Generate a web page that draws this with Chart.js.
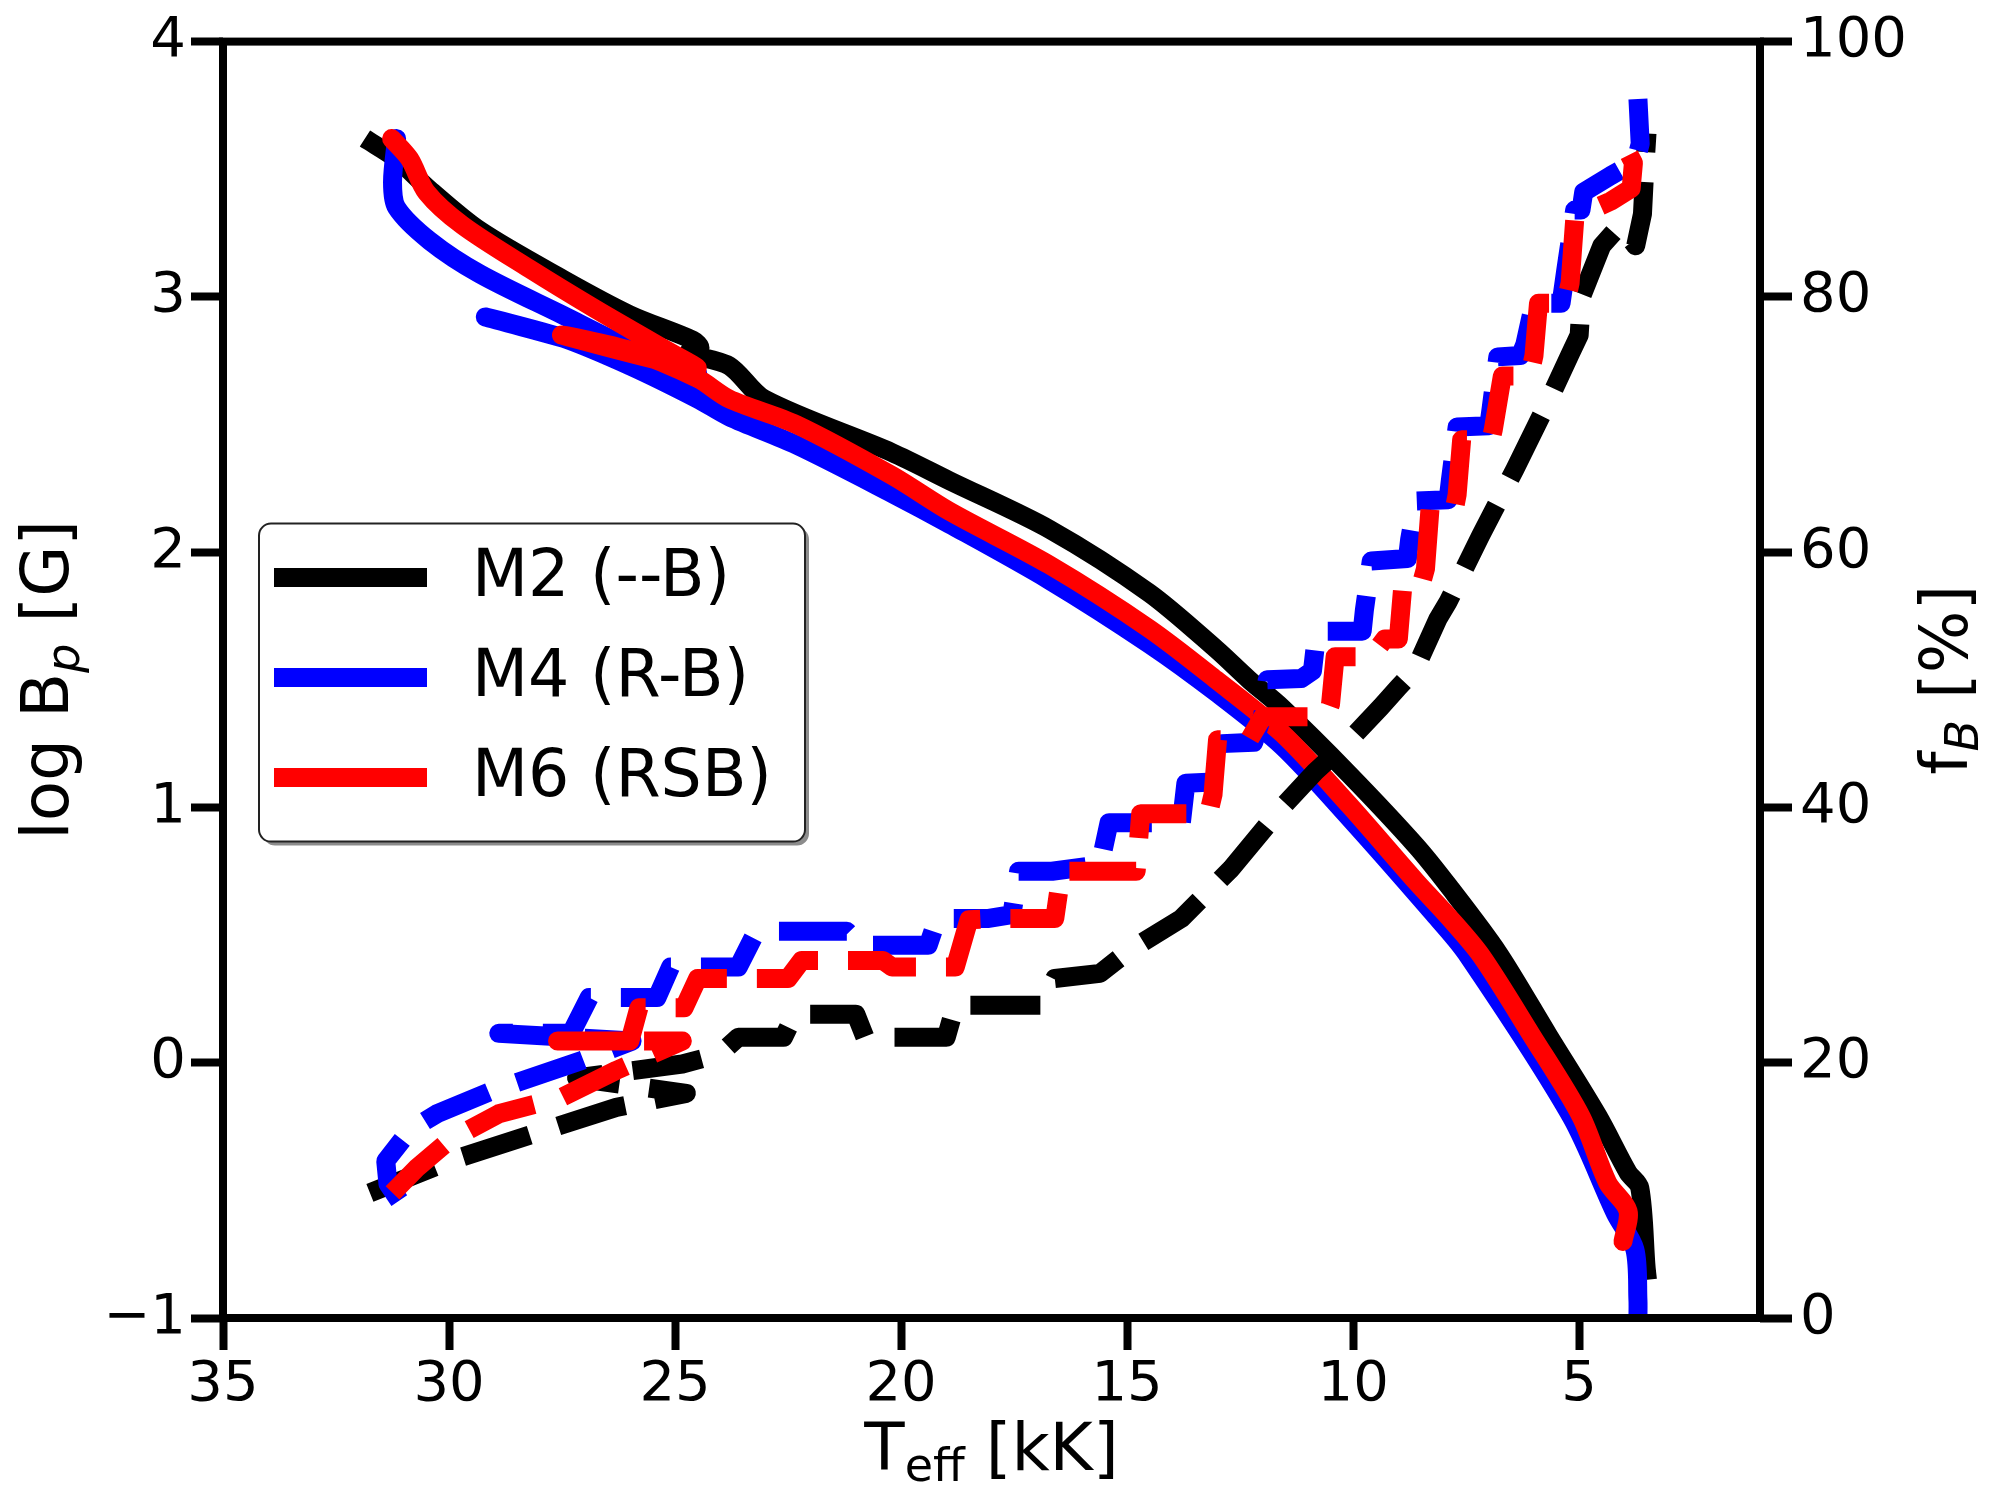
<!DOCTYPE html>
<html>
<head>
<meta charset="utf-8">
<script src="https://cdn.jsdelivr.net/npm/chart.js@4.4.1/dist/chart.umd.min.js"></script>
<style>
  html, body { margin: 0; padding: 0; background: #fff; }
  #wrap { width: 2000px; height: 1500px; }
</style>
</head>
<body>
<div id="wrap"><canvas id="bfield" width="2000" height="1500"></canvas></div>
<script>
// tick labels
const teffTicks = [35, 30, 25, 20, 15, 10, 5];
const logBTicks = [-1, 0, 1, 2, 3, 4];
const fbTicks = [0, 20, 40, 60, 80, 100];

// M2 (--B) : log Bp along the track
const m2Teff = [31.86, 31.16, 30.43, 29.32, 27.49, 26.0, 24.6, 24.45, 24.7, 23.8, 23.03, 20.2, 18.93, 16.72, 14.51, 13.03, 12.3, 11.57, 10.09, 8.61, 7.88, 6.79, 5.69, 4.58, 3.92, 3.66, 3.52, 3.49];
const m2LogB = [3.62, 3.54, 3.42, 3.26, 3.07, 2.93, 2.83, 2.80, 2.78, 2.73, 2.60, 2.39, 2.28, 2.09, 1.84, 1.62, 1.50, 1.39, 1.13, 0.85, 0.69, 0.43, 0.11, -0.21, -0.43, -0.49, -0.80, -0.85];

// M4 (R-B)
const m4Teff = [31.16, 31.25, 31.16, 30.43, 29.32, 27.5, 26.0, 24.53, 29.17, 27.5, 26.0, 24.5, 23.8, 22.32, 20.2, 18.93, 16.72, 14.51, 13.03, 11.57, 10.09, 8.25, 7.5, 5.18, 4.2, 3.77, 3.7, 3.7];
const m4LogB = [3.62, 3.45, 3.35, 3.22, 3.09, 2.93, 2.80, 2.70, 2.92, 2.84, 2.73, 2.60, 2.53, 2.42, 2.23, 2.11, 1.89, 1.64, 1.45, 1.24, 0.96, 0.59, 0.43, -0.21, -0.59, -0.73, -0.93, -1.0];

// M6 (RSB)
const m6Teff = [31.27, 30.87, 30.5, 29.7, 28.22, 26.74, 25.28, 24.53, 27.5, 26.0, 24.5, 23.8, 22.32, 20.2, 18.93, 16.72, 14.51, 13.03, 11.57, 10.09, 8.61, 7.88, 7.17, 6.06, 4.96, 4.37, 3.92, 4.03];
const m6LogB = [3.62, 3.54, 3.41, 3.28, 3.11, 2.95, 2.80, 2.72, 2.85, 2.79, 2.68, 2.60, 2.50, 2.30, 2.16, 1.95, 1.70, 1.50, 1.29, 1.01, 0.71, 0.57, 0.42, 0.11, -0.21, -0.47, -0.58, -0.70];

// fB [%] (right axis), dashed
const m2FbTeff = [31.75, 29.99, 28.15, 26.3, 24.75, 27.18, 24.84, 24.0, 23.6, 22.6, 22.35, 21.0, 20.8, 19.0, 18.8, 16.9, 16.6, 15.6, 14.97, 13.8, 12.7, 11.6, 10.84, 10.1, 9.38, 9.0, 8.63, 8.12, 7.9, 7.18, 6.42, 5.7, 5.2, 5.0, 4.95, 4.5, 4.1, 3.75, 3.6, 3.55, 3.5];
const m2Fb = [9.8, 12.3, 14.4, 16.5, 17.6, 18.8, 19.9, 20.7, 22.0, 22.0, 23.8, 23.8, 22.0, 22.0, 24.5, 24.5, 26.6, 27.0, 28.75, 31.3, 35.2, 39.9, 42.8, 45.2, 47.9, 49.4, 50.8, 54.8, 56.1, 61.3, 66.5, 71.7, 75.5, 77.0, 80.0, 84.0, 85.6, 84.0, 86.5, 90.0, 92.8];

const m4FbTeff = [31.1, 31.35, 31.4, 30.87, 30.27, 29.04, 27.05, 25.95, 28.9, 27.3, 26.9, 25.4, 25.1, 23.6, 23.2, 21.2, 20.9, 19.4, 19.2, 18.06, 17.55, 17.4, 16.66, 15.6, 15.4, 13.8, 13.7, 13.1, 12.9, 12.2, 12.0, 11.9, 11.15, 10.9, 10.8, 9.8, 9.75, 9.6, 8.8, 8.75, 8.6, 7.9, 7.85, 7.7, 7.0, 6.95, 6.8, 6.3, 6.2, 6.0, 5.4, 5.3, 5.1, 4.96, 4.9, 4.3, 3.75, 3.65, 3.7];
const m4Fb = [9.2, 10.5, 12.3, 14.7, 16.0, 17.8, 20.2, 21.7, 22.3, 22.3, 25.1, 25.1, 27.5, 27.5, 30.3, 30.3, 29.2, 29.2, 31.3, 31.3, 31.6, 35.0, 35.0, 35.5, 38.8, 38.8, 41.9, 42.0, 45.0, 45.1, 47.2, 50.0, 50.1, 50.7, 53.8, 53.8, 55.5, 59.3, 59.5, 61.0, 64.0, 64.1, 65.6, 69.8, 69.9, 71.2, 75.3, 75.4, 76.3, 79.5, 79.5, 82.0, 86.8, 86.8, 88.2, 89.5, 90.6, 92.0, 95.5];

const m6FbTeff = [31.25, 30.7, 30.0, 28.9, 27.5, 26.3, 24.84, 27.6, 26.0, 25.8, 24.8, 24.5, 22.5, 22.2, 20.4, 20.2, 18.8, 18.5, 17.9, 16.6, 16.45, 14.8, 14.7, 13.2, 13.1, 13.0, 12.3, 12.0, 11.65, 10.6, 10.5, 10.4, 9.6, 9.3, 9.0, 8.9, 8.5, 8.4, 8.3, 7.76, 7.7, 7.6, 6.95, 6.9, 6.7, 6.1, 6.0, 5.9, 5.3, 5.2, 5.1, 4.74, 4.3, 3.85, 3.8, 3.99];
const m6Fb = [9.8, 11.8, 13.9, 16.0, 17.3, 19.4, 21.7, 21.7, 21.7, 24.3, 24.3, 26.6, 26.6, 28.0, 28.0, 27.5, 27.5, 31.2, 31.3, 31.3, 35.0, 35.0, 39.5, 39.5, 41.0, 45.3, 45.3, 47.1, 47.1, 47.1, 48.1, 51.8, 51.8, 53.2, 53.2, 57.4, 57.4, 58.7, 63.4, 63.4, 64.5, 68.8, 68.8, 69.6, 73.8, 73.8, 75.4, 79.5, 79.5, 81.1, 86.0, 86.8, 87.5, 88.5, 90.5, 91.8];

function pts(xs, ys) {
    return xs.map(function(x, i){ return {x: x, y: ys[i]}; });
}

const FONT = 'DejaVu Sans';
const LW = 19;

// axis titles with sub-scripts, spines and the legend box
function drawParts(ctx, parts, cx, base) {
    var total = 0;
    parts.forEach(function(p){
        ctx.font = p.f;
        p.w = ctx.measureText(p.t).width;
        total += p.w;
    });
    var x = cx - total / 2;
    parts.forEach(function(p){
        ctx.font = p.f;
        ctx.fillText(p.t, x, base + (p.dy || 0));
        x += p.w;
    });
}

const extras = {
    id: 'extras',
    afterDatasetsDraw: function(chart) {
        const ctx = chart.ctx, a = chart.chartArea;
        ctx.save();
        ctx.strokeStyle = '#000';
        ctx.lineWidth = 8;
        ctx.strokeRect(a.left, a.top, a.right - a.left, a.bottom - a.top);
        ctx.restore();
    },
    afterDraw: function(chart) {
        const ctx = chart.ctx, a = chart.chartArea;
        const big = '66px ' + FONT, sub = '46px ' + FONT, subIt = 'italic 46px ' + FONT;
        const cy = (a.top + a.bottom) / 2;
        ctx.save();
        ctx.fillStyle = '#000';
        ctx.textBaseline = 'alphabetic';
        ctx.textAlign = 'left';

        drawParts(ctx, [{t: 'T', f: big}, {t: 'eff', f: sub, dy: 11}, {t: ' [kK]', f: big}],
            (a.left + a.right) / 2, a.bottom + 152);

        ctx.save();
        ctx.translate(a.left - 155, cy);
        ctx.rotate(-Math.PI / 2);
        drawParts(ctx, [{t: 'log B', f: big}, {t: 'p', f: subIt, dy: 11}, {t: ' [G]', f: big}], 0, 0);
        ctx.restore();

        ctx.save();
        ctx.translate(a.right + 207, cy);
        ctx.rotate(-Math.PI / 2);
        drawParts(ctx, [{t: 'f', f: big}, {t: 'B', f: subIt, dy: 11}, {t: ' [%]', f: big}], 0, 0);
        ctx.restore();

        // legend
        const bx = a.left + 36, by = a.top + 482, bw = 546, bh = 318;
        function box(x, y) {
            ctx.beginPath();
            ctx.roundRect(x, y, bw, bh, 12);
        }
        ctx.fillStyle = 'rgba(0,0,0,0.45)';
        box(bx + 4, by + 4);
        ctx.fill();
        ctx.fillStyle = '#fff';
        box(bx, by);
        ctx.fill();
        ctx.lineWidth = 2;
        ctx.strokeStyle = '#222';
        box(bx, by);
        ctx.stroke();

        const items = chart.data.datasets.filter(function(d){ return !d.borderDash; });
        ctx.font = '65px ' + FONT;
        ctx.textBaseline = 'middle';
        items.forEach(function(d, i){
            const ly = by + 54 + i * 100;
            ctx.strokeStyle = d.borderColor;
            ctx.lineWidth = LW;
            ctx.lineCap = 'butt';
            ctx.beginPath();
            ctx.moveTo(bx + 15, ly);
            ctx.lineTo(bx + 168, ly);
            ctx.stroke();
            ctx.fillStyle = '#000';
            ctx.fillText(d.label, bx + 213, ly + 2);
        });
        ctx.restore();
    }
};

function minus(v) {
    return String(v).replace('-', '\u2212');
}

const tickFont = {family: FONT, size: 56};

const config = {
    type: 'line',
    data: {
        datasets: [
            {label: 'M6 fB', data: pts(m6FbTeff, m6Fb), yAxisID: 'y2', borderColor: '#ff0000', borderDash: [70, 30], order: 1},
            {label: 'M4 fB', data: pts(m4FbTeff, m4Fb), yAxisID: 'y2', borderColor: '#0000ff', borderDash: [70, 30], order: 2},
            {label: 'M2 fB', data: pts(m2FbTeff, m2Fb), yAxisID: 'y2', borderColor: '#000000', borderDash: [70, 30], order: 3},
            {label: 'M2 (--B)', data: pts(m2Teff, m2LogB), yAxisID: 'y', borderColor: '#000000', borderCapStyle: 'butt', tension: 0.3, order: 6},
            {label: 'M4 (R-B)', data: pts(m4Teff, m4LogB), yAxisID: 'y', borderColor: '#0000ff', borderCapStyle: 'round', tension: 0.3, order: 5},
            {label: 'M6 (RSB)', data: pts(m6Teff, m6LogB), yAxisID: 'y', borderColor: '#ff0000', borderCapStyle: 'round', tension: 0.3, order: 4}
        ]
    },
    options: {
        responsive: false,
        devicePixelRatio: 1,
        animation: false,
        layout: {padding: {top: 38, left: 0, right: 0, bottom: 0}},
        elements: {
            line: {borderWidth: LW, tension: 0, fill: false, borderJoinStyle: 'round'},
            point: {radius: 0, hoverRadius: 0}
        },
        plugins: {legend: {display: false}, tooltip: {enabled: false}},
        scales: {
            x: {
                type: 'linear',
                position: 'bottom',
                reverse: true,
                min: 1,
                max: 35,
                afterBuildTicks: function(s){ s.ticks = teffTicks.map(function(v){ return {value: v}; }); },
                afterFit: function(s){ s.height = 182; },
                grid: {drawOnChartArea: false, drawTicks: true, tickLength: 32, tickWidth: 8, tickColor: '#000'},
                border: {display: false},
                ticks: {font: tickFont, color: '#000', padding: 2, maxRotation: 0, callback: minus}
            },
            y: {
                type: 'linear',
                position: 'left',
                min: -1,
                max: 4,
                afterBuildTicks: function(s){ s.ticks = logBTicks.map(function(v){ return {value: v}; }); },
                afterFit: function(s){ s.width = 223; },
                grid: {drawOnChartArea: false, drawTicks: true, tickLength: 32, tickWidth: 8, tickColor: '#000'},
                border: {display: false},
                ticks: {font: tickFont, color: '#000', padding: 5, callback: minus}
            },
            y2: {
                type: 'linear',
                position: 'right',
                min: 0,
                max: 100,
                afterBuildTicks: function(s){ s.ticks = fbTicks.map(function(v){ return {value: v}; }); },
                afterFit: function(s){ s.width = 240; },
                grid: {drawOnChartArea: false, drawTicks: true, tickLength: 32, tickWidth: 8, tickColor: '#000'},
                border: {display: false},
                ticks: {font: tickFont, color: '#000', padding: 8}
            }
        }
    },
    plugins: [extras]
};

const bChart = new Chart(document.getElementById('bfield'), config);
</script>
</body>
</html>
